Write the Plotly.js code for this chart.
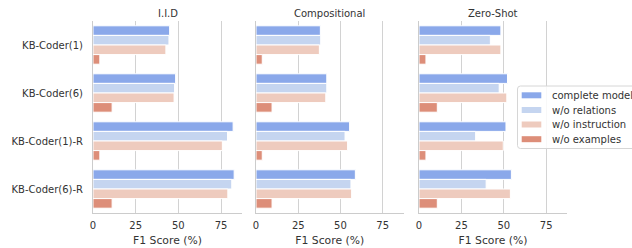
<!DOCTYPE html>
<html>
<head>
<meta charset="utf-8">
<script src="https://cdn.plot.ly/plotly-3.0.1.min.js"></script>
<style>html,body{margin:0;padding:0;background:#fff;}#chart{width:632px;height:248px;}</style>
</head>
<body>
<div id="chart"></div>
<script>
const models = ["KB-Coder(1)", "KB-Coder(6)", "KB-Coder(1)-R", "KB-Coder(6)-R"];
const panels = ["I.I.D", "Compositional", "Zero-Shot"];
const variants = ["complete model", "w/o relations", "w/o instruction", "w/o examples"];
const colors = ["#8aa8ea", "#c5d5f0", "#eecbbe", "#dd8e79"];

const iid_complete = [44.9, 48.4, 82.1, 82.7];
const iid_relations = [44.5, 47.8, 78.8, 81.3];
const iid_instruction = [42.7, 47.5, 75.8, 79.0];
const iid_examples = [4.0, 11.2, 4.0, 11.2];

const comp_complete = [38.1, 41.9, 55.4, 58.8];
const comp_relations = [38.3, 41.9, 52.7, 56.2];
const comp_instruction = [37.5, 41.3, 54.2, 56.6];
const comp_examples = [3.7, 9.5, 3.7, 9.5];

const zs_complete = [48.3, 52.2, 51.3, 54.5];
const zs_relations = [42.1, 47.3, 33.4, 39.6];
const zs_instruction = [48.3, 51.8, 49.7, 53.9];
const zs_examples = [4.1, 10.8, 4.1, 10.8];

const xTicks = [0, 25, 50, 75];

const panelData = [
  [iid_complete, iid_relations, iid_instruction, iid_examples],
  [comp_complete, comp_relations, comp_instruction, comp_examples],
  [zs_complete, zs_relations, zs_instruction, zs_examples]
];

const font = "DejaVu Sans, sans-serif";
const textColor = "#333333";
const traces = [];
panelData.forEach((series, p) => {
  series.forEach((vals, v) => {
    traces.push({
      type: "bar",
      orientation: "h",
      x: vals,
      y: models,
      name: variants[v],
      showlegend: false,
      xaxis: p === 0 ? "x" : "x" + (p + 1),
      yaxis: p === 0 ? "y" : "y" + (p + 1),
      marker: { color: colors[v], line: { color: "#ffffff", width: 1 } }
    });
  });
});

const W = 632, H = 248, ml = 93, mr = 65, mt = 21, mb = 35;
const pw = W - ml - mr, ph = H - mt - mb;
const px = v => (v - ml) / pw;
const py = v => (H - mb - v) / ph;
const domains = [[px(93), px(242)], [px(256), px(403.5)], [px(419), 1]];

const layout = {
  width: W, height: H,
  margin: { l: ml, r: mr, t: mt, b: mb },
  paper_bgcolor: "#ffffff", plot_bgcolor: "#ffffff",
  barmode: "group", bargap: 0.2, bargroupgap: 0,
  font: { family: font, size: 10, color: textColor },
  showlegend: false,
  annotations: [],
  shapes: []
};

for (let p = 0; p < 3; p++) {
  const xa = p === 0 ? "xaxis" : "xaxis" + (p + 1);
  const ya = p === 0 ? "yaxis" : "yaxis" + (p + 1);
  layout[xa] = {
    domain: domains[p], anchor: p === 0 ? "y" : "y" + (p + 1),
    range: [0, 87.3], tickvals: xTicks, ticktext: xTicks.map(String),
    showgrid: true, gridcolor: "#d2d2d2", gridwidth: 1, zeroline: false,
    showline: true, linecolor: "#cccccc", linewidth: 1, ticks: "",
    ticklabelstandoff: 3,
    tickfont: { family: font, size: 10, color: textColor },
    title: { text: "F1 Score (%)", font: { family: font, size: 10.8, color: textColor }, standoff: 6 },
    fixedrange: true
  };
  layout[ya] = {
    anchor: p === 0 ? "x" : "x" + (p + 1),
    type: "category", categoryarray: models, categoryorder: "array",
    range: [3.5, -0.5], showgrid: false, zeroline: false,
    showline: true, linecolor: "#cccccc", linewidth: 1, ticks: "",
    showticklabels: p === 0, ticklabelstandoff: 7,
    tickfont: { family: font, size: 10, color: textColor },
    fixedrange: true
  };
  layout.annotations.push({
    text: panels[p], xref: "paper", yref: "paper",
    x: (domains[p][0] + domains[p][1]) / 2, y: py(13.5),
    xanchor: "center", yanchor: "middle", showarrow: false,
    font: { family: font, size: 10, color: textColor }
  });
}

// legend box (custom, drawn from variants/colors)
const lx0 = 517.5, lx1 = 640, ly0 = 86, ly1 = 148.5, r = 3;
layout.shapes.push({
  type: "path", xref: "paper", yref: "paper",
  path: `M ${px(lx0 + r)} ${py(ly0)} L ${px(lx1)} ${py(ly0)} L ${px(lx1)} ${py(ly1)} L ${px(lx0 + r)} ${py(ly1)} Q ${px(lx0)} ${py(ly1)} ${px(lx0)} ${py(ly1 - r)} L ${px(lx0)} ${py(ly0 + r)} Q ${px(lx0)} ${py(ly0)} ${px(lx0 + r)} ${py(ly0)} Z`,
  fillcolor: "rgba(255,255,255,0.85)", line: { color: "#d6d6d6", width: 1 }, layer: "above"
});
const rowY = [95.3, 110, 124.5, 139.2];
variants.forEach((name, i) => {
  layout.shapes.push({
    type: "rect", xref: "paper", yref: "paper",
    x0: px(521.7), x1: px(541.3), y0: py(rowY[i] - 3), y1: py(rowY[i] + 3),
    fillcolor: colors[i], line: { width: 0 }, layer: "above"
  });
  layout.annotations.push({
    text: name, xref: "paper", yref: "paper",
    x: px(549.5), y: py(rowY[i]), xanchor: "left", yanchor: "middle",
    showarrow: false, font: { family: font, size: 10, color: textColor }
  });
});

Plotly.newPlot("chart", traces, layout, { displayModeBar: false, staticPlot: true });
</script>
</body>
</html>
